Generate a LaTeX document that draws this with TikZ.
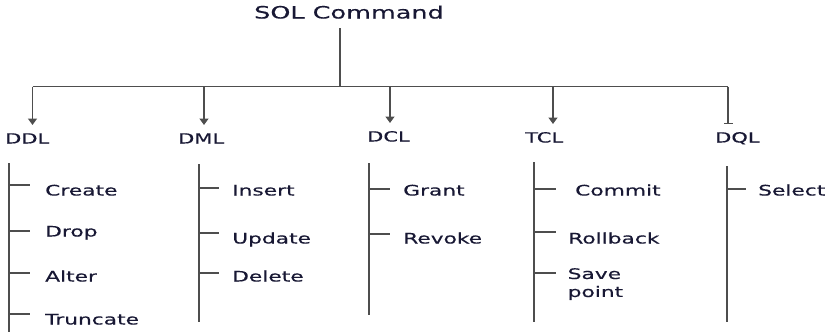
\documentclass[tikz,border=0pt]{standalone}
\usepackage{fontspec}
\setmainfont{DejaVu Sans}[FakeStretch=1.5,FakeBold=0.4]
\usetikzlibrary{arrows.meta}
\definecolor{ink}{RGB}{24,24,52}
\definecolor{rulegray}{RGB}{78,78,78}
\begin{document}
\begin{tikzpicture}[x=1pt,y=-1pt,
  titletext/.style={font=\fontsize{17}{20}\selectfont, text=ink, inner sep=0, anchor=base},
  headtext/.style={font=\fontsize{14}{16}\selectfont, text=ink, inner sep=0, anchor=base west},
  itemtext/.style={font=\fontsize{14.5}{18}\selectfont, text=ink, inner sep=0, anchor=base west, align=left},
  link/.style={draw=rulegray, line width=1.4pt},
  down/.style={link, -{Triangle[width=9pt,length=6.5pt]}},
  downbar/.style={link, -{Bar[width=9pt,line width=1.4pt]}},
  spine/.style={draw=rulegray, line width=1.8pt},
  tick/.style={draw=rulegray, line width=1.2pt}]
\useasboundingbox (0,0) rectangle (828,332);

% root and trunk
\node[titletext] (root) at (349,18.5) {SOL Command};
\coordinate (trunk-top) at (340,28);
\coordinate (trunk-bot) at (340,86.5);
\draw[link] (trunk-top) -- (trunk-bot);

% horizontal bar with drop points
\coordinate (ddl-top) at (32.5,86.5);
\coordinate (dml-top) at (204,86.5);
\coordinate (dcl-top) at (390,86.5);
\coordinate (tcl-top) at (553,86.5);
\coordinate (dql-top) at (728,86.5);
\draw[link] (ddl-top) -- (dql-top);

\coordinate (ddl-in) at (32.5,125);
\coordinate (dml-in) at (204,125);
\coordinate (dcl-in) at (390,123);
\coordinate (tcl-in) at (553,124);
\coordinate (dql-in) at (728,124);
\draw[down] (ddl-top) -- (ddl-in);
\draw[down] (dml-top) -- (dml-in);
\draw[down] (dcl-top) -- (dcl-in);
\draw[down] (tcl-top) -- (tcl-in);
\draw[downbar] (dql-top) -- (dql-in);

% category headings
\node[headtext] (ddl) at (5,143.5) {DDL};
\node[headtext] (dml) at (178,143.5) {DML};
\node[headtext] (dcl) at (367,141.5) {DCL};
\node[headtext] (tcl) at (525,142.5) {TCL};
\node[headtext] (dql) at (715,142.5) {DQL};

% DDL commands
\coordinate (ddl-s1) at (9,163);
\coordinate (ddl-s2) at (9,333);
\draw[spine] (ddl-s1) -- (ddl-s2);
\foreach \y/\n in {185/a,231/b,273/c,314/d}{
  \coordinate (ddl-\n) at (9,\y);
  \coordinate (ddl-\n e) at (30,\y);
  \draw[tick] (ddl-\n) -- (ddl-\n e);
}
\node[itemtext] (create) at (45,195.5) {Create};
\node[itemtext] (drop) at (45,236.5) {Drop};
\node[itemtext] (alter) at (45,281.5) {Alter};
\node[itemtext] (truncate) at (45,324.5) {Truncate};

% DML commands
\coordinate (dml-s1) at (199,164);
\coordinate (dml-s2) at (199,322);
\draw[spine] (dml-s1) -- (dml-s2);
\foreach \y/\n in {188/a,233/b,273/c}{
  \coordinate (dml-\n) at (199,\y);
  \coordinate (dml-\n e) at (219,\y);
  \draw[tick] (dml-\n) -- (dml-\n e);
}
\node[itemtext] (insert) at (232,195.5) {Insert};
\node[itemtext] (update) at (232,243.5) {Update};
\node[itemtext] (delete) at (232,281.5) {Delete};

% DCL commands
\coordinate (dcl-s1) at (369,163);
\coordinate (dcl-s2) at (369,315);
\draw[spine] (dcl-s1) -- (dcl-s2);
\foreach \y/\n in {189/a,234/b}{
  \coordinate (dcl-\n) at (369,\y);
  \coordinate (dcl-\n e) at (390,\y);
  \draw[tick] (dcl-\n) -- (dcl-\n e);
}
\node[itemtext] (grant) at (403,195.5) {Grant};
\node[itemtext] (revoke) at (403,243.5) {Revoke};

% TCL commands
\coordinate (tcl-s1) at (534,162);
\coordinate (tcl-s2) at (534,322);
\draw[spine] (tcl-s1) -- (tcl-s2);
\foreach \y/\n in {189/a,232/b,273/c}{
  \coordinate (tcl-\n) at (534,\y);
  \coordinate (tcl-\n e) at (556,\y);
  \draw[tick] (tcl-\n) -- (tcl-\n e);
}
\node[itemtext] (commit) at (575,195.5) {Commit};
\node[itemtext] (rollback) at (568,243.5) {Rollback};
\node[itemtext, anchor=north west] (savepoint) at (567.5,268) {Save\\point};

% DQL commands
\coordinate (dql-s1) at (727,166);
\coordinate (dql-s2) at (727,322);
\draw[spine] (dql-s1) -- (dql-s2);
\coordinate (dql-a) at (727,189);
\coordinate (dql-ae) at (746,189);
\draw[tick] (dql-a) -- (dql-ae);
\node[itemtext] (select) at (758,195.5) {Select};
\end{tikzpicture}
\end{document}
